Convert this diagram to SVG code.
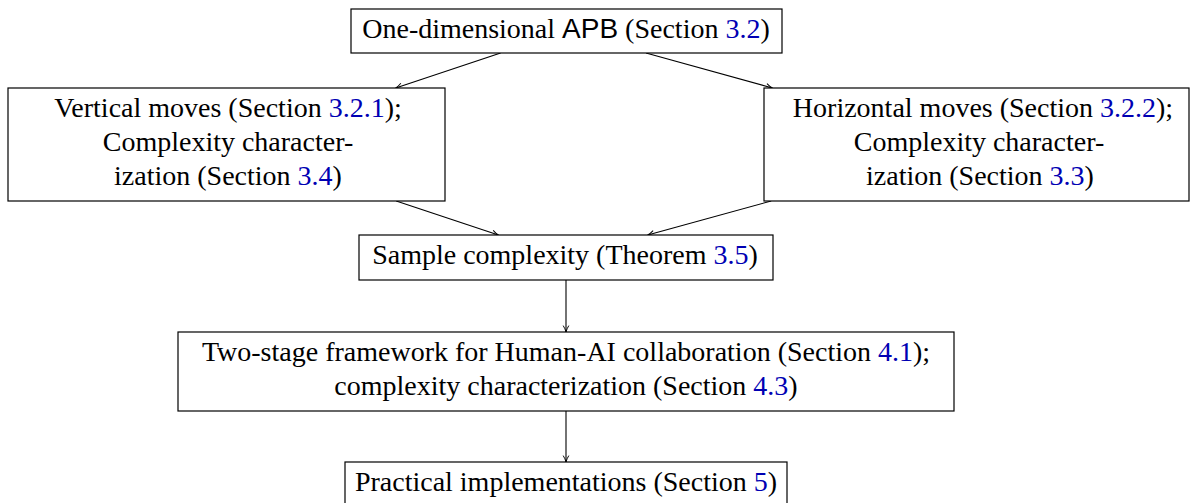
<svg xmlns="http://www.w3.org/2000/svg" width="1191" height="503" viewBox="0 0 1191 503">
<defs>
<style>
.box{fill:#fff;stroke:#000;stroke-width:1.2}
.t{font-family:"Liberation Serif","DejaVu Serif",serif;font-size:28px;fill:#000;text-anchor:middle}
.s{font-family:"Liberation Sans","DejaVu Sans",sans-serif}
.r{fill:#0000b3}
.e{fill:none;stroke:#000;stroke-width:1.1}
</style>
<marker id="ah" viewBox="0 0 10 10" refX="9" refY="5" markerWidth="8" markerHeight="8" markerUnits="userSpaceOnUse" orient="auto">
<path d="M1,1.5 Q5,4 9,5 Q5,6 1,8.5" fill="none" stroke="#000" stroke-width="1.2"/>
</marker>
</defs>
<rect width="1191" height="503" fill="#fff"/>
<g id="connectors">
<line class="e" x1="500.6" y1="53" x2="395.7" y2="88" marker-end="url(#ah)"/>
<line class="e" x1="646" y1="53" x2="772.4" y2="88" marker-end="url(#ah)"/>
<line class="e" x1="396.2" y1="201" x2="498.4" y2="235" marker-end="url(#ah)"/>
<line class="e" x1="771.2" y1="201" x2="647.7" y2="235" marker-end="url(#ah)"/>
<line class="e" x1="566" y1="280" x2="566" y2="332" marker-end="url(#ah)"/>
<line class="e" x1="566" y1="411" x2="566" y2="462" marker-end="url(#ah)"/>
</g>
<g id="n1">
<rect class="box" x="351" y="9" width="431" height="44"/>
<text class="t" x="566" y="38">One-dimensional <tspan class="s">APB</tspan> (Section <tspan class="r">3.2</tspan>)</text>
</g>
<g id="n2">
<rect class="box" x="8" y="88" width="437" height="113"/>
<text class="t" x="228" y="117">Vertical moves (Section <tspan class="r">3.2.1</tspan>);</text>
<text class="t" x="228" y="151">Complexity character-</text>
<text class="t" x="228" y="185">ization (Section <tspan class="r">3.4</tspan>)</text>
</g>
<g id="n3">
<rect class="box" x="764" y="88" width="425" height="113"/>
<text class="t" x="983" y="117">Horizontal moves (Section <tspan class="r">3.2.2</tspan>);</text>
<text class="t" x="979" y="151">Complexity character-</text>
<text class="t" x="980" y="185">ization (Section <tspan class="r">3.3</tspan>)</text>
</g>
<g id="n4">
<rect class="box" x="359" y="235" width="414" height="45"/>
<text class="t" x="565" y="264">Sample complexity (Theorem <tspan class="r">3.5</tspan>)</text>
</g>
<g id="n5">
<rect class="box" x="178" y="332" width="776" height="79"/>
<text class="t" x="566" y="361">Two-stage framework for Human-AI collaboration (Section <tspan class="r">4.1</tspan>);</text>
<text class="t" x="566" y="395">complexity characterization (Section <tspan class="r">4.3</tspan>)</text>
</g>
<g id="n6">
<rect class="box" x="345" y="462" width="442" height="45"/>
<text class="t" x="566" y="491">Practical implementations (Section <tspan class="r">5</tspan>)</text>
</g>
</svg>
